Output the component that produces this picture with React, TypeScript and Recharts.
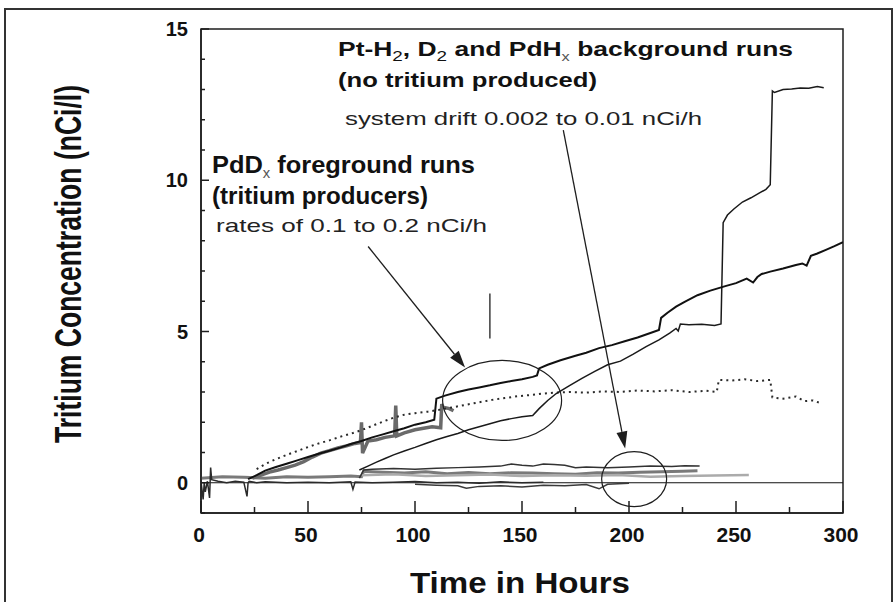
import React from 'react';
import { LineChart, Line, XAxis, YAxis, ReferenceLine, ReferenceArea, ReferenceDot } from 'recharts';

// foreground runs (PdDx)
const aHours = [22, 26, 30, 35, 40, 45, 50, 55, 60, 65, 70, 75, 80, 85, 90, 95, 100, 105, 109, 110, 114, 120, 125, 130, 135, 140, 145, 150, 155, 157, 158, 162, 168, 175, 180, 186, 192, 198, 204, 210, 214, 215, 218, 222, 226, 232, 238, 245, 250, 255, 258, 260, 262, 266, 272, 278, 281, 283, 285, 288, 292, 296, 300];
const aConc = [0.12, 0.25, 0.4, 0.52, 0.63, 0.74, 0.85, 0.96, 1.06, 1.16, 1.28, 1.38, 1.5, 1.6, 1.7, 1.8, 1.92, 2.0, 2.08, 2.78, 2.88, 3.0, 3.08, 3.15, 3.22, 3.3, 3.36, 3.42, 3.5, 3.55, 3.78, 3.9, 4.05, 4.2, 4.3, 4.45, 4.55, 4.68, 4.8, 4.95, 5.05, 5.45, 5.62, 5.82, 5.98, 6.2, 6.35, 6.5, 6.6, 6.75, 6.62, 6.8, 6.9, 6.98, 7.08, 7.2, 7.25, 7.18, 7.5, 7.58, 7.7, 7.82, 7.95];

const bHours = [74, 78, 82, 86, 90, 95, 100, 105, 110, 115, 120, 125, 130, 135, 140, 145, 150, 155, 158, 162, 166, 172, 178, 184, 190, 196, 202, 208, 214, 219, 222, 223, 224, 228, 234, 240, 243, 244, 246, 249, 253, 257, 261, 264, 266, 267, 268, 272, 276, 280, 284, 288, 291];
const bConc = [0.42, 0.55, 0.68, 0.8, 0.92, 1.05, 1.17, 1.3, 1.42, 1.53, 1.63, 1.75, 1.85, 1.95, 2.05, 2.12, 2.18, 2.22, 2.45, 2.72, 2.95, 3.2, 3.45, 3.68, 3.9, 4.02, 4.25, 4.5, 4.72, 4.95, 5.1, 5.02, 5.25, 5.22, 5.24, 5.2, 5.25, 8.6, 8.85, 9.05, 9.28, 9.42, 9.58, 9.7, 9.85, 12.95, 12.9, 13.0, 13.02, 13.05, 13.04, 13.1, 13.06];

const cHours = [26, 30, 35, 40, 45, 50, 55, 60, 65, 70, 75, 80, 85, 90, 95, 100, 106, 112, 118, 124, 130, 136, 142, 148, 154, 160, 166, 172, 180, 188, 196, 204, 212, 220, 228, 236, 241, 242, 248, 254, 260, 266, 267, 272, 278, 282, 286, 290];
const cConc = [0.45, 0.62, 0.78, 0.92, 1.05, 1.18, 1.3, 1.4, 1.52, 1.62, 1.74, 1.88, 2.02, 2.15, 2.25, 2.3, 2.35, 2.42, 2.5, 2.58, 2.66, 2.74, 2.8, 2.86, 2.9, 2.95, 2.98, 3.0, 2.98, 3.02, 3.0, 3.05, 3.02, 3.06, 3.0, 3.04, 3.0, 3.4, 3.38, 3.42, 3.36, 3.4, 2.82, 2.78, 2.85, 2.7, 2.72, 2.62];

const dHours = [24, 28, 32, 36, 40, 44, 48, 52, 56, 60, 64, 68, 72, 74.5, 75, 75.5, 78, 82, 86, 90.5, 91, 91.5, 95, 100, 104, 108, 112, 112.5, 113, 116, 118];
const dConc = [0.15, 0.25, 0.35, 0.42, 0.5, 0.58, 0.7, 0.85, 0.98, 1.06, 1.15, 1.22, 1.3, 1.33, 2.0, 0.98, 1.38, 1.42, 1.5, 1.55, 2.55, 1.55, 1.65, 1.75, 1.8, 1.85, 1.82, 2.6, 2.5, 2.45, 2.38];

// background runs (Pt-H2, D2, PdHx)
const eHours = [0, 1, 1.5, 2, 3, 4, 4.5, 5, 8, 12, 16, 20, 21.5, 22, 22.5, 26, 30, 40, 50, 60, 70, 71, 72, 80, 90, 100, 110, 120, 130, 140, 150, 160];
const eConc = [0.05, -0.55, 0.0, -0.3, 0.05, -0.5, 0.5, 0.1, 0.05, 0.0, 0.05, 0.02, -0.45, 0.0, 0.05, 0.0, 0.03, 0.0, 0.02, 0.0, 0.03, -0.22, 0.02, 0.0, 0.02, 0.04, 0.0, 0.02, -0.02, 0.03, 0.0, 0.02];

const fHours = [0, 10, 20, 30, 40, 50, 60, 70, 75, 76, 85, 95, 105, 115, 125, 135, 145, 155, 165, 175, 185, 195, 205, 215, 225, 232];
const fConc = [0.15, 0.2, 0.18, 0.15, 0.2, 0.18, 0.2, 0.22, 0.2, 0.38, 0.35, 0.32, 0.36, 0.3, 0.34, 0.3, 0.33, 0.32, 0.3, 0.28, 0.33, 0.32, 0.35, 0.36, 0.38, 0.4];

const gHours = [74, 76, 80, 90, 100, 110, 120, 130, 140, 145, 150, 155, 160, 165, 170, 175, 180, 190, 200, 210, 220, 226, 233];
const gConc = [0.15, 0.42, 0.45, 0.47, 0.45, 0.48, 0.5, 0.52, 0.55, 0.62, 0.58, 0.55, 0.62, 0.6, 0.58, 0.5, 0.52, 0.5, 0.52, 0.55, 0.54, 0.56, 0.55];

const hHours = [75, 90, 105, 120, 135, 150, 165, 180, 195, 210, 225, 240, 256];
const hConc = [0.25, 0.28, 0.22, 0.25, 0.27, 0.22, 0.25, 0.23, 0.26, 0.2, 0.22, 0.24, 0.26];

const iHours = [100, 110, 120, 124, 130, 140, 150, 160, 170, 180, 186, 190, 200];
const iConc = [-0.05, -0.08, -0.1, -0.18, -0.12, -0.1, -0.14, -0.08, -0.1, -0.06, -0.2, -0.05, -0.02];

const xTicks = [0, 25, 50, 75, 100, 125, 150, 175, 200, 225, 250, 275, 300];
const yTicks = [-1, 0, 1, 2, 3, 4, 5, 6, 7, 8, 9, 10, 11, 12, 13, 14, 15];

const FONT = "'Liberation Sans', Arial, sans-serif";
const INK = '#1e1e1e';

const pts = (h: number[], c: number[]) => h.map((t, i) => ({ t, v: c[i] }));

const series = [
  { key: 'bgMid', data: pts(fHours, fConc), stroke: '#7a7a7a', width: 3 },
  { key: 'bgLight', data: pts(hHours, hConc), stroke: '#ababab', width: 2.5 },
  { key: 'bgZero', data: pts(eHours, eConc), stroke: '#2a2a2a', width: 1.5 },
  { key: 'bgLow', data: pts(iHours, iConc), stroke: '#3a3a3a', width: 1.5 },
  { key: 'bgUp', data: pts(gHours, gConc), stroke: '#333', width: 1.5 },
  { key: 'fgGray', data: pts(dHours, dConc), stroke: '#6a6a6a', width: 3.5 },
  { key: 'fgDot', data: pts(cHours, cConc), stroke: '#2a2a2a', width: 2, dash: '2 4' },
  { key: 'fgStep', data: pts(bHours, bConc), stroke: '#1a1a1a', width: 1.5 },
  { key: 'fgTop', data: pts(aHours, aConc), stroke: '#111', width: 2 },
];

const XTick = (p: any) => {
  const major = p.payload.value % 50 === 0;
  return (
    <g>
      <line x1={p.x} x2={p.x} y1={p.y} y2={p.y - (major ? 12 : 6)} stroke={INK} strokeWidth={1.5} />
      {major && (
        <text x={p.x - 2} y={p.y + 29} textAnchor="middle" fontFamily={FONT} fontWeight={700} fontSize={21} fill="#111">
          {p.payload.value}
        </text>
      )}
    </g>
  );
};

const YTick = (p: any) => {
  const major = p.payload.value % 5 === 0;
  return (
    <g>
      <line x1={p.x} x2={p.x + (major ? 8 : 4)} y1={p.y} y2={p.y} stroke={INK} strokeWidth={1.5} />
      {major && p.payload.value >= 0 && (
        <text x={p.x - 13} y={p.y + 7} textAnchor="end" fontFamily={FONT} fontWeight={700} fontSize={20} fill="#111">
          {p.payload.value}
        </text>
      )}
    </g>
  );
};

const Arrow = (p: any) => {
  const { x1, y1, x2, y2 } = p;
  const dx = x2 - x1;
  const dy = y2 - y1;
  const len = Math.sqrt(dx * dx + dy * dy);
  const ux = dx / len;
  const uy = dy / len;
  const bx = x2 - ux * 17;
  const by = y2 - uy * 17;
  const nx = -uy * 5.5;
  const ny = ux * 5.5;
  return (
    <g>
      <line x1={x1} y1={y1} x2={bx} y2={by} stroke={INK} strokeWidth={1.3} />
      <polygon points={`${x2},${y2} ${bx + nx},${by + ny} ${bx - nx},${by - ny}`} fill={INK} />
    </g>
  );
};

const ring = (rx: number, ry: number) => (p: any) =>
  <ellipse cx={p.cx} cy={p.cy} rx={rx} ry={ry} fill="none" stroke={INK} strokeWidth={1.2} />;

export default function App() {
  return (
    <div style={{ position: 'absolute', left: 0, top: 0, width: 893, height: 602, background: '#fff', fontFamily: FONT }}>
      <LineChart width={893} height={602} margin={{ top: 29, right: 50, bottom: 59, left: 0 }}>
        <XAxis
          type="number"
          dataKey="t"
          domain={[0, 300]}
          ticks={xTicks}
          interval={0}
          height={30}
          tickSize={0}
          tickMargin={0}
          tickLine={false}
          axisLine={{ stroke: INK, strokeWidth: 1.5 }}
          tick={XTick}
          allowDataOverflow
        />
        <YAxis
          type="number"
          domain={[-1, 15]}
          ticks={yTicks}
          interval={0}
          width={201}
          tickSize={0}
          tickMargin={0}
          tickLine={false}
          axisLine={{ stroke: INK, strokeWidth: 1.5 }}
          tick={YTick}
          allowDataOverflow
        />
        <ReferenceArea x1={0} x2={300} y1={-1} y2={15} fill="none" fillOpacity={0} stroke={INK} strokeWidth={1.5} />
        <ReferenceLine y={0} stroke="#111" strokeWidth={1.2} />
        {series.map((s) => (
          <Line
            key={s.key}
            data={s.data}
            dataKey="v"
            type="linear"
            stroke={s.stroke}
            strokeWidth={s.width}
            strokeDasharray={s.dash}
            dot={false}
            activeDot={false}
            isAnimationActive={false}
          />
        ))}
        <ReferenceLine segment={[{ x: 135, y: 6.26 }, { x: 135, y: 4.77 }]} stroke={INK} strokeWidth={1.3} />
        <ReferenceLine segment={[{ x: 78.1, y: 7.81 }, { x: 123.4, y: 3.81 }]} shape={Arrow} />
        <ReferenceLine segment={[{ x: 169.3, y: 11.66 }, { x: 198.2, y: 1.13 }]} shape={Arrow} />
        <ReferenceDot x={140.7} y={2.72} r={1} shape={ring(59.5, 40)} />
        <ReferenceDot x={202.4} y={0.12} r={1} shape={ring(32.5, 27.5)} />
      </LineChart>

      <svg width={893} height={602} style={{ position: 'absolute', left: 0, top: 0, pointerEvents: 'none' }}>
        <rect x={5} y={9} width={887} height={600} fill="none" stroke="#333" strokeWidth={2} />

        <text x={338} y={56} fontFamily={FONT} fontWeight={700} fontSize={21} fill="#111" textLength={455} lengthAdjust="spacingAndGlyphs">
          Pt-H<tspan fontSize={15} fontWeight={400} dy={5}>2</tspan>
          <tspan dy={-5}>, D</tspan>
          <tspan fontSize={15} fontWeight={400} dy={5}>2</tspan>
          <tspan dy={-5}> and PdH</tspan>
          <tspan fontSize={13} fontWeight={400} fill="#555" dy={5}>x</tspan>
          <tspan dy={-5}> background runs</tspan>
        </text>
        <text x={338} y={87} fontFamily={FONT} fontWeight={700} fontSize={21} fill="#111" textLength={259} lengthAdjust="spacingAndGlyphs">
          (no tritium produced)
        </text>
        <text x={345} y={125} fontFamily={FONT} fontWeight={400} fontSize={19} fill="#222" textLength={357} lengthAdjust="spacingAndGlyphs">
          system drift 0.002 to 0.01 nCi/h
        </text>

        <text x={212} y={173} fontFamily={FONT} fontWeight={700} fontSize={24} fill="#111" textLength={263} lengthAdjust="spacingAndGlyphs">
          PdD<tspan fontSize={14} fontWeight={400} fill="#555" dy={5}>x</tspan>
          <tspan dy={-5}> foreground runs</tspan>
        </text>
        <text x={212} y={204} fontFamily={FONT} fontWeight={700} fontSize={24} fill="#111" textLength={216} lengthAdjust="spacingAndGlyphs">
          (tritium producers)
        </text>
        <text x={216} y={232} fontFamily={FONT} fontWeight={400} fontSize={19} fill="#222" textLength={271} lengthAdjust="spacingAndGlyphs">
          rates of  0.1 to 0.2 nCi/h
        </text>

        <text
          transform="translate(81 264) rotate(-90) scale(1 1.45)"
          textAnchor="middle"
          fontFamily={FONT}
          fontWeight={700}
          fontSize={26}
          fill="#111"
          textLength={358}
          lengthAdjust="spacingAndGlyphs"
        >
          Tritium Concentration (nCi/l)
        </text>
        <text x={520} y={593} textAnchor="middle" fontFamily={FONT} fontWeight={700} fontSize={29} fill="#111" textLength={220} lengthAdjust="spacingAndGlyphs">
          Time in Hours
        </text>
      </svg>
    </div>
  );
}
